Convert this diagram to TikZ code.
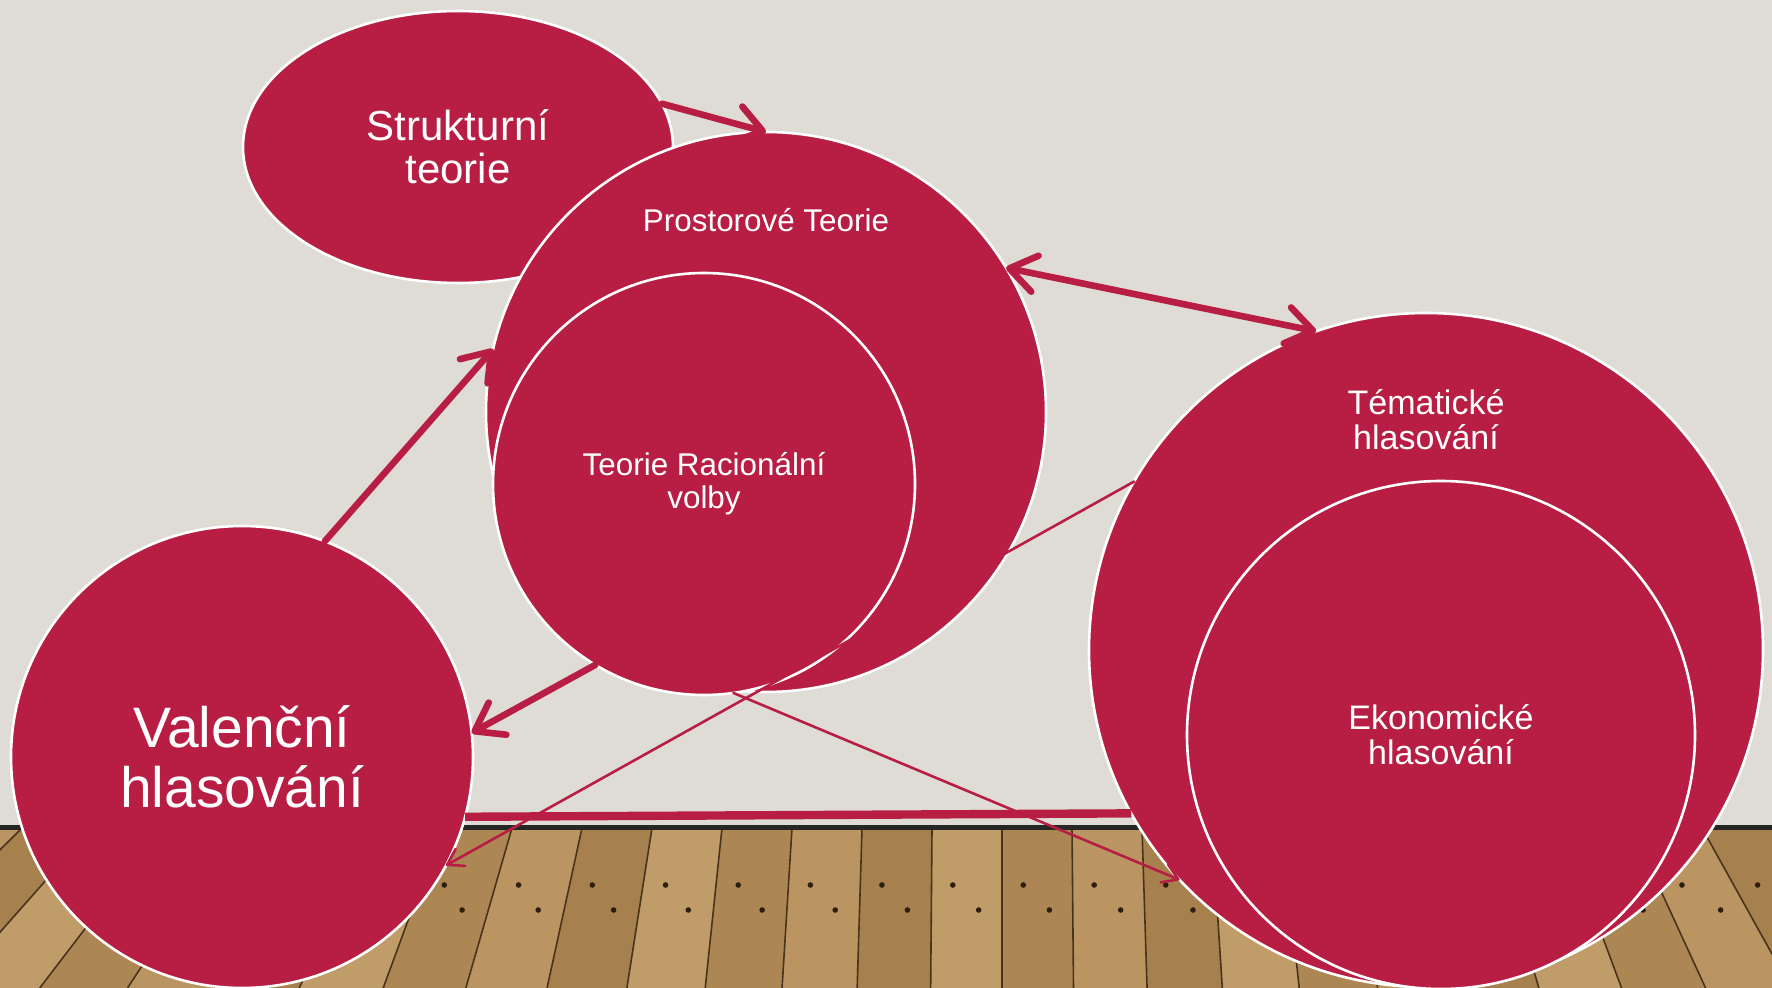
\documentclass[tikz,border=0pt]{standalone}
\usepackage{fontspec}
\setmainfont{Liberation Sans}
\usetikzlibrary{arrows.meta,shapes.geometric}
\definecolor{wall}{HTML}{DFDCD5}
\definecolor{redfill}{HTML}{B81E43}
\definecolor{wood0}{HTML}{AD8753}
\definecolor{wood1}{HTML}{BA9562}
\definecolor{wood2}{HTML}{A6814D}
\definecolor{wood3}{HTML}{C09C69}
\definecolor{woodline}{HTML}{4A331C}
\definecolor{nail}{HTML}{2E1E10}
\begin{document}
\begin{tikzpicture}[x=0.5pt,y=-0.5pt,
  bubble/.style={draw=white, line width=1.3pt, fill=redfill, text=white,
    inner sep=0pt, outer sep=0pt, align=center},
  lbl/.style={text=white, inner sep=0pt, align=center},
  thickline/.style={draw=redfill, line width=3.3pt, line cap=round},
  thinline/.style={draw=redfill, line width=1.3pt, line cap=round},
  bigtip/.style={-{Straight Barb[angle=70:16pt,round]}},
  bigtips/.style={{Straight Barb[angle=70:16pt,round]}-{Straight Barb[angle=70:16pt,round]}},
  smalltip/.style={-{Straight Barb[angle=65:9pt,round]}}
]
\useasboundingbox (0,0) rectangle (1772,988);
% wall
\fill[wall] (0,0) rectangle (1772,828);
% floor
\begin{scope}
\clip (0,828) rectangle (1772,988);
\foreach \k in {-15,...,11} {
  \pgfmathsetmacro{\xa}{1002+70*\k}
  \pgfmathsetmacro{\xb}{\xa+70}
  \pgfmathsetmacro{\sa}{1.05*(\xa-1000)/1000*pow(abs(\xa-1000)/1000,0.8)}
  \pgfmathsetmacro{\sb}{1.05*(\xb-1000)/1000*pow(abs(\xb-1000)/1000,0.8)}
  \pgfmathsetmacro{\xab}{\xa+160*\sa}
  \pgfmathsetmacro{\xbb}{\xb+160*\sb}
  \pgfmathtruncatemacro{\c}{mod(\k+20,4)}
  \pgfmathsetmacro{\xm}{(\xa+\xb)/2}
  \pgfmathsetmacro{\sm}{(\sa+\sb)/2}
  \fill[wood\c] (\xa,828) -- (\xb,828) -- (\xbb,988) -- (\xab,988) -- cycle;
  \draw[woodline, line width=0.8pt] (\xa,828) -- (\xab,988);
  \fill[nail] ({\xm-14+57*\sm},885) circle[radius=1.4pt];
  \fill[nail] ({\xm+12+82*\sm},910) circle[radius=1.4pt];
}
\end{scope}
\fill[black!85] (0,825) rectangle (1772,830);
% shapes
\node[bubble, ellipse, minimum width=215pt, minimum height=136pt,
  font=\fontsize{21}{21.6}\selectfont] (struk) at (458,147) {Strukturní\\teorie};
\node[bubble, circle, minimum size=280pt] (prost) at (766,412) {};
\node[lbl, font=\fontsize{15.7}{16.4}\selectfont] (prostlbl) at (766,220) {Prostorové Teorie};
\node[bubble, circle, minimum size=211pt,
  font=\fontsize{15.7}{16.4}\selectfont] (tro) at (704,484) {Teorie Racionální\\volby};
\node[bubble, circle, minimum size=231pt,
  font=\fontsize{28.5}{30}\selectfont] (val) at (242,757) {Valenční\\hlasování};
\node[bubble, circle, minimum size=337pt] (tem) at (1426,650) {};
\node[lbl, font=\fontsize{17}{17.5}\selectfont] (temlbl) at (1426,420) {Tématické\\hlasování};
\node[bubble, circle, minimum size=254pt,
  font=\fontsize{17}{17.5}\selectfont] (eko) at (1441,735) {Ekonomické\\hlasování};
% connectors
\draw[thickline, bigtip] (struk.12) -- (prost.90);
\draw[thickline, bigtips] (prost.31) -- (tem.109);
\draw[thickline, bigtip] (val.69) -- (prost.167);
\draw[thickline, bigtip] (tro.239) -- (val.6);
\draw[thinline, smalltip] (tem.150) -- (val.-28);
\draw[thinline, smalltip] (tro.-82) -- (tem.-137);
\draw[draw=redfill, line width=4.2pt] (val.-15) -- (tem.209);
\end{tikzpicture}
\end{document}
